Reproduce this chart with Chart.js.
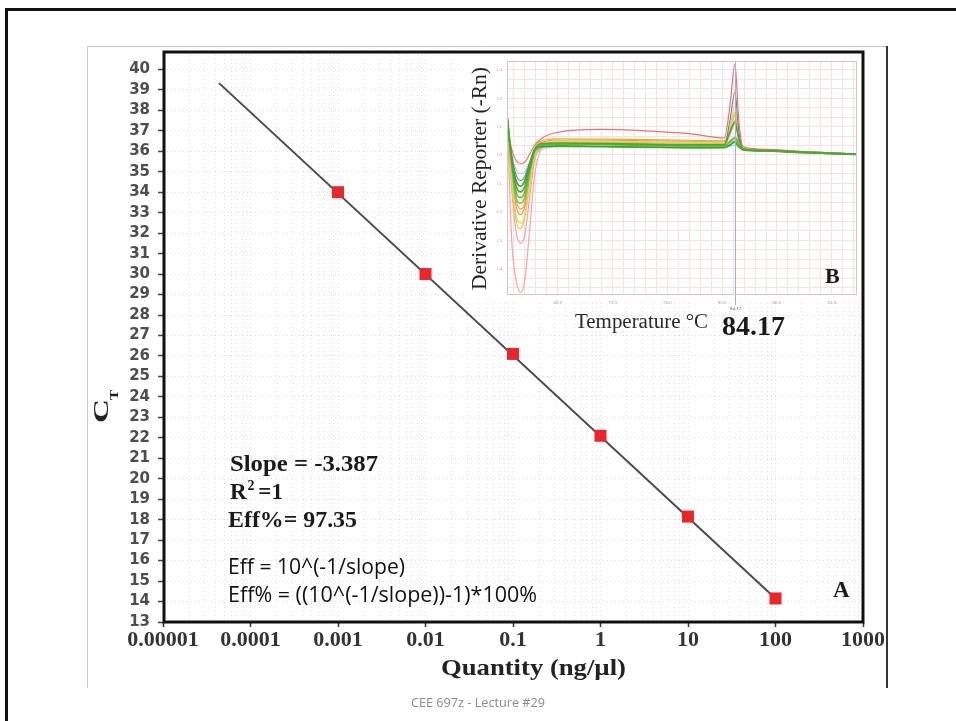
<!DOCTYPE html>
<html>
<head>
<meta charset="utf-8">
<script src="https://cdn.jsdelivr.net/npm/chart.js@4.4.1/dist/chart.umd.min.js"></script>
<style>
  html, body { margin: 0; padding: 0; background: #fff; }
  #wrap { position: relative; width: 956px; height: 721px; overflow: hidden; }
  #main { position: absolute; left: 0; top: 0; }
  #inset { position: absolute; left: 460px; top: 53px; }
</style>
</head>
<body>
<div id="wrap">
  <canvas id="main" width="956" height="721"></canvas>
  <canvas id="inset" width="400" height="290"></canvas>
</div>
<script>
const SERIF = '"Liberation Serif", "Times New Roman", serif';
const SANS = '"Open Sans", "Noto Sans", sans-serif';

// Standard curve (panel A)
const quantities = [0.001, 0.01, 0.1, 1, 10, 100];
const ctValues = [34.0, 30.0, 26.1, 22.1, 18.15, 14.15];
const fitQuantities = [0.0000437, 100];
const fitCt = [39.33, 14.15];
const ctTicks = [13, 14, 15, 16, 17, 18, 19, 20, 21, 22, 23, 24, 25, 26, 27,
  28, 29, 30, 31, 32, 33, 34, 35, 36, 37, 38, 39, 40];
const quantityLabels = ['0.00001', '0.0001', '0.001', '0.01', '0.1', '1', '10', '100', '1000'];

// Melt curves (panel B)
const meltTemps = [63.4, 63.8, 64.2, 64.6, 65.0, 65.4, 65.9, 66.6, 68, 72, 76, 80,
  83.2, 83.7, 84.17, 84.5, 84.9, 87, 90, 93, 95.3];
const meltGreenA = [0.13, -0.02, -0.11, -0.13, -0.11, -0.05, 0.02, 0.04, 0.042, 0.04, 0.038, 0.036, 0.036, 0.08, 0.115, 0.06, 0.022, 0.016, 0.011, 0.006, 0.003];
const meltGreenB = [0.13, -0.03, -0.13, -0.15, -0.13, -0.06, 0.015, 0.035, 0.037, 0.036, 0.034, 0.032, 0.032, 0.045, 0.06, 0.04, 0.02, 0.015, 0.01, 0.006, 0.003];
const meltGreenC = [0.13, -0.01, -0.09, -0.11, -0.09, -0.04, 0.02, 0.03, 0.032, 0.03, 0.028, 0.027, 0.027, 0.035, 0.045, 0.03, 0.018, 0.014, 0.009, 0.005, 0.002];
const meltGreenD = [0.13, -0.04, -0.15, -0.17, -0.15, -0.07, 0.01, 0.028, 0.03, 0.029, 0.027, 0.025, 0.026, 0.035, 0.05, 0.03, 0.02, 0.014, 0.009, 0.005, 0.002];
const meltRed = [0.10, 0.02, -0.02, -0.03, -0.025, 0.0, 0.035, 0.06, 0.08, 0.09, 0.085, 0.075, 0.06, 0.17, 0.32, 0.13, 0.03, 0.02, 0.013, 0.008, 0.004];
const meltPinkDeep = [0.12, -0.3, -0.44, -0.485, -0.44, -0.28, -0.07, 0.025, 0.04, 0.042, 0.04, 0.038, 0.04, 0.05, 0.065, 0.05, 0.025, 0.017, 0.012, 0.007, 0.003];
const meltPinkMid = [0.12, -0.12, -0.27, -0.31, -0.28, -0.16, -0.02, 0.03, 0.045, 0.045, 0.042, 0.04, 0.04, 0.07, 0.11, 0.065, 0.025, 0.018, 0.012, 0.007, 0.003];
const meltYellow = [0.12, -0.08, -0.21, -0.24, -0.21, -0.11, 0.0, 0.04, 0.05, 0.05, 0.047, 0.045, 0.045, 0.1, 0.17, 0.085, 0.025, 0.018, 0.012, 0.007, 0.003];
const meltOlive = [0.12, -0.1, -0.23, -0.26, -0.22, -0.12, -0.01, 0.035, 0.045, 0.046, 0.044, 0.042, 0.042, 0.09, 0.15, 0.075, 0.025, 0.018, 0.012, 0.007, 0.003];
const meltOrange = [0.12, -0.05, -0.16, -0.19, -0.17, -0.08, 0.02, 0.05, 0.057, 0.056, 0.054, 0.052, 0.05, 0.09, 0.14, 0.07, 0.025, 0.018, 0.012, 0.007, 0.003];
const meltOrangeB = [0.12, -0.06, -0.18, -0.21, -0.18, -0.09, 0.01, 0.045, 0.052, 0.052, 0.05, 0.048, 0.047, 0.08, 0.12, 0.06, 0.025, 0.018, 0.012, 0.007, 0.003];
const meltSlate = [0.11, 0.0, -0.07, -0.09, -0.075, -0.03, 0.02, 0.035, 0.038, 0.038, 0.036, 0.035, 0.035, 0.12, 0.22, 0.09, 0.02, 0.015, 0.01, 0.006, 0.003];
const meltSky = [0.1, 0.0, -0.05, -0.066, -0.06, -0.03, 0.0, 0.02, 0.03, 0.03, 0.028, 0.027, 0.027, 0.03, 0.035, 0.028, 0.02, 0.016, 0.012, 0.008, 0.004];
const meltPeakTemp = 84.17;
const meltTickTemps = [68, 73, 78, 83, 88, 93];

// squeeze/stretch text to a measured width from the picture
function fitText(ctx, txt, x, y, w, font, color) {
  ctx.save();
  ctx.font = font;
  const m = ctx.measureText(txt).width;
  ctx.translate(x, y);
  ctx.scale(w / m, 1);
  ctx.fillStyle = color;
  ctx.textAlign = 'left';
  ctx.textBaseline = 'alphabetic';
  ctx.fillText(txt, 0, 0);
  ctx.restore();
}

const mainDecor = {
  id: 'mainDecor',
  beforeDraw(chart) {
    const ctx = chart.ctx;
    ctx.save();
    ctx.fillStyle = '#fff';
    ctx.fillRect(0, 0, chart.width, chart.height);
    // slide frame
    ctx.fillStyle = '#111';
    ctx.fillRect(5, 8, 951, 3);
    ctx.fillRect(5, 8, 3, 713);
    // picture frame
    ctx.strokeStyle = '#c8c8c8';
    ctx.lineWidth = 1;
    ctx.beginPath();
    ctx.moveTo(87.5, 688); ctx.lineTo(87.5, 46.5); ctx.lineTo(887, 46.5);
    ctx.stroke();
    ctx.strokeStyle = '#333';
    ctx.lineWidth = 2;
    ctx.beginPath();
    ctx.moveTo(887, 46); ctx.lineTo(887, 688);
    ctx.stroke();
    ctx.restore();
  },
  afterDraw(chart) {
    const ctx = chart.ctx;
    const a = chart.chartArea;
    ctx.save();
    ctx.strokeStyle = '#111';
    ctx.lineWidth = 3;
    ctx.strokeRect(a.left + 1, a.top + 1, a.right - a.left - 1, a.bottom - a.top - 1);

    // axis titles
    ctx.save();
    ctx.translate(108, 423);
    ctx.rotate(-Math.PI / 2);
    fitText(ctx, 'C', 0, 0, 24, 'bold 22px ' + SERIF, '#222');
    fitText(ctx, 'T', 23, 10, 10, 'bold 13px ' + SERIF, '#222');
    ctx.restore();
    fitText(ctx, 'Quantity (ng/\u00b5l)', 441, 675, 185, 'bold 24px ' + SERIF, '#222');

    // fit statistics
    fitText(ctx, 'Slope = -3.387', 230, 471, 148, 'bold 23px ' + SERIF, '#1a1a1a');
    ctx.fillStyle = '#1a1a1a';
    ctx.font = 'bold 23px ' + SERIF;
    ctx.fillText('R', 230, 499);
    const rw = ctx.measureText('R').width;
    ctx.font = 'bold 14px ' + SERIF;
    ctx.fillText('2', 230 + rw + 1, 490);
    ctx.font = 'bold 23px ' + SERIF;
    ctx.fillText(' =1', 230 + rw + 6, 499);
    fitText(ctx, 'Eff%= 97.35', 228, 527, 129, 'bold 23px ' + SERIF, '#1a1a1a');
    fitText(ctx, 'Eff = 10^(-1/slope)', 228, 574, 177, '21px ' + SANS, '#111');
    fitText(ctx, 'Eff% = ((10^(-1/slope))-1)*100%', 228, 602, 309, '21px ' + SANS, '#111');
    ctx.font = 'bold 23px ' + SERIF;
    ctx.fillStyle = '#1a1a1a';
    ctx.fillText('A', 833, 597);

    fitText(ctx, 'CEE 697z - Lecture #29', 411, 707, 134, '12px ' + SANS, '#8a8a8a');
    ctx.restore();
  }
};

new Chart(document.getElementById('main'), {
  type: 'scatter',
  data: {
    datasets: [
      {
        label: 'Standard curve fit',
        data: fitQuantities.map((q, i) => ({ x: q, y: fitCt[i] })),
        showLine: true,
        borderColor: '#4a4a4a',
        borderWidth: 2,
        pointRadius: 0,
        order: 2
      },
      {
        label: 'Standards',
        data: quantities.map((q, i) => ({ x: q, y: ctValues[i] })),
        pointStyle: 'rect',
        pointRadius: 8.5,
        backgroundColor: '#e8262b',
        borderWidth: 0,
        order: 1
      }
    ]
  },
  options: {
    responsive: false,
    animation: false,
    devicePixelRatio: 1,
    layout: { padding: { left: 0, top: 51, right: 93, bottom: 0 } },
    plugins: { legend: { display: false }, tooltip: { enabled: false } },
    scales: {
      x: {
        type: 'logarithmic',
        min: 1e-5,
        max: 1e3,
        afterBuildTicks: (s) => {
          const t = [];
          for (let e = -5; e < 3; e++) {
            for (let m = 1; m < 10; m++) t.push({ value: m * Math.pow(10, e), major: m === 1 });
          }
          t.push({ value: 1000, major: true });
          s.ticks = t;
        },
        afterFit: (s) => { s.height = 99; },
        border: { display: false, dash: [1, 3] },
        grid: {
          color: 'rgba(0,0,0,0.11)',
          lineWidth: 1,
          tickLength: 5,
          tickWidth: 1.5,
          tickBorderDash: [],
          tickColor: (c) => (c.tick && c.tick.major ? '#333' : 'rgba(0,0,0,0)')
        },
        ticks: {
          autoSkip: false,
          maxRotation: 0,
          padding: 0,
          color: '#333',
          font: { family: SERIF, size: 22, weight: 'bold' },
          callback: (v, i, t) => (t[i].major ? quantityLabels[Math.round(Math.log10(v)) + 5] : '')
        }
      },
      y: {
        min: 13,
        max: 40.9,
        afterBuildTicks: (s) => { s.ticks = ctTicks.map((v) => ({ value: v })); },
        afterFit: (s) => { s.width = 163; },
        border: { display: false, dash: [1, 3] },
        grid: {
          color: 'rgba(0,0,0,0.13)',
          lineWidth: 1,
          tickLength: 5,
          tickWidth: 1.5,
          tickBorderDash: [],
          tickColor: '#444'
        },
        ticks: {
          autoSkip: false,
          padding: 8,
          color: '#4d4d4d',
          font: { family: '"DejaVu Sans", sans-serif', size: 15, weight: 'bold' }
        }
      }
    }
  },
  plugins: [mainDecor]
});

// ---- inset panel B ----
const meltSeries = [
  { data: meltGreenA, color: '#48a830', width: 1.6 },
  { data: meltGreenB, color: '#62b83a', width: 1.6 },
  { data: meltGreenC, color: '#3c9c3c', width: 1.6 },
  { data: meltGreenD, color: '#7cc24a', width: 1.6 },
  { data: meltRed, color: '#f07070', width: 1.2 },
  { data: meltSlate, color: '#6f7f9f', width: 1.1 },
  { data: meltYellow, color: '#e2d85a', width: 1.2 },
  { data: meltOlive, color: '#c6d44e', width: 1.2 },
  { data: meltOrange, color: '#f0a040', width: 1.2 },
  { data: meltOrangeB, color: '#e88c4e', width: 1.2 },
  { data: meltPinkMid, color: '#f2a0a8', width: 1.2 },
  { data: meltPinkDeep, color: '#f5a4a0', width: 1.2 },
  { data: meltSky, color: '#a8c8e8', width: 1.1 }
];

const insetDecor = {
  id: 'insetDecor',
  beforeDraw(chart) {
    const ctx = chart.ctx;
    ctx.save();
    ctx.fillStyle = '#fff';
    ctx.fillRect(5, 2, 395, 248);
    ctx.restore();
  },
  afterDatasetsDraw(chart) {
    const ctx = chart.ctx;
    const a = chart.chartArea;
    const px = Math.round(chart.scales.x.getPixelForValue(meltPeakTemp)) + 0.5;
    ctx.save();
    ctx.strokeStyle = '#9fb0d8';
    ctx.lineWidth = 1;
    ctx.beginPath();
    ctx.moveTo(px, a.top);
    ctx.lineTo(px, a.bottom + 10);
    ctx.stroke();
    ctx.fillStyle = '#888';
    ctx.font = 'bold 5px ' + SERIF;
    ctx.textAlign = 'center';
    ctx.fillText(meltPeakTemp.toFixed(2), px, a.bottom + 15);
    ctx.restore();
  },
  afterDraw(chart) {
    const ctx = chart.ctx;
    const a = chart.chartArea;
    ctx.save();
    ctx.strokeStyle = '#d9c4c4';
    ctx.lineWidth = 1;
    ctx.strokeRect(a.left + 0.5, a.top + 0.5, a.right - a.left - 1, a.bottom - a.top - 1);

    ctx.save();
    ctx.translate(26, 237);
    ctx.rotate(-Math.PI / 2);
    fitText(ctx, 'Derivative Reporter (-Rn)', 0, 0, 223, '21px ' + SERIF, '#222');
    ctx.restore();

    fitText(ctx, 'Temperature \u00b0C', 115, 275, 133, '20px ' + SERIF, '#2a2a2a');
    fitText(ctx, '84.17', 262, 282, 63, 'bold 27px ' + SERIF, '#1a1a1a');
    ctx.font = 'bold 22px ' + SERIF;
    ctx.fillStyle = '#1a1a1a';
    ctx.fillText('B', 365, 230);
    ctx.restore();
  }
};

new Chart(document.getElementById('inset'), {
  type: 'line',
  data: {
    datasets: meltSeries.map((s) => ({
      data: meltTemps.map((t, i) => ({ x: t, y: s.data[i] })),
      borderColor: s.color,
      borderWidth: s.width,
      pointRadius: 0,
      cubicInterpolationMode: 'monotone',
      fill: false
    }))
  },
  options: {
    responsive: false,
    animation: false,
    devicePixelRatio: 1,
    layout: { padding: { left: 37, top: 4, right: 3, bottom: 38 } },
    plugins: { legend: { display: false }, tooltip: { enabled: false } },
    scales: {
      x: {
        type: 'linear',
        min: 63.37,
        max: 95.3,
        afterBuildTicks: (s) => {
          const t = [];
          for (let v = 64; v <= 95; v++) t.push({ value: v });
          s.ticks = t;
        },
        afterFit: (s) => { s.height = 10; },
        border: { display: false },
        grid: { color: '#f4e2e2', lineWidth: 1, drawTicks: false },
        ticks: {
          autoSkip: false,
          maxRotation: 0,
          padding: 5,
          color: '#999',
          font: { family: SERIF, size: 5 },
          callback: (v) => (meltTickTemps.includes(Math.round(v)) ? Number(v).toFixed(1) : '')
        }
      },
      y: {
        min: -0.493,
        max: 0.331,
        afterBuildTicks: (s) => {
          const t = [];
          for (let k = -14; k <= 9; k++) t.push({ value: k / 30 });
          s.ticks = t;
        },
        afterFit: (s) => { s.width = 10; },
        border: { display: false },
        grid: { color: '#f4e2e2', lineWidth: 1, drawTicks: false },
        ticks: {
          autoSkip: false,
          padding: 5,
          color: '#999',
          font: { family: SERIF, size: 5 },
          callback: (v) => {
            const k = Math.round(v * 30);
            return k % 3 === 0 ? (k / 30).toFixed(1) : '';
          }
        }
      }
    }
  },
  plugins: [insetDecor]
});
</script>
</body>
</html>
